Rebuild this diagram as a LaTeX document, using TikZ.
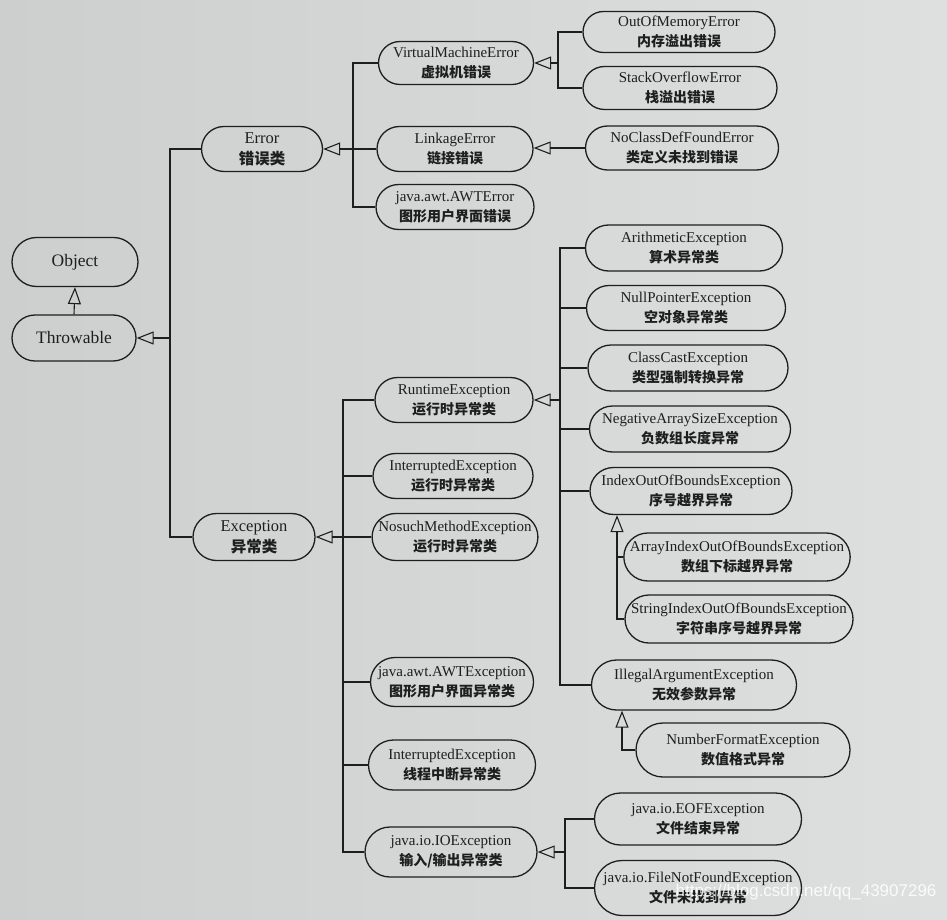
\documentclass[tikz,border=0pt]{standalone}
\usepackage{fontspec}
\setmainfont{Liberation Serif}
\newfontfamily\cjk{Noto Sans CJK SC}
\newfontfamily\wmfont{Liberation Sans}
\usetikzlibrary{arrows.meta,shapes.misc}
\definecolor{paperL}{RGB}{204,207,206}
\definecolor{paperR}{RGB}{222,224,223}
\definecolor{ink}{RGB}{30,30,30}
\tikzset{
  cls/.style={draw=ink, line width=1.3pt, rounded rectangle, inner sep=0pt, align=center,
    font=\fontsize{15}{20}\selectfont, text=ink},
  ln/.style={draw=ink, line width=1.1pt},
  inh/.style={ln, -{Triangle[open, length=17pt, width=13pt, line width=1.1pt]}},
  wm/.style={text=white, opacity=0.85, font=\wmfont\fontsize{17}{20}\selectfont}
}
\newcommand\clsnode[7]{\node[cls, minimum width=#4pt, minimum height=#5pt] (#1) at (#2,#3)
  {#6\\{\cjk\bfseries\fontsize{14}{20}\selectfont #7}};}
\begin{document}
\begin{tikzpicture}[x=1pt,y=-1pt]
\shade[left color=paperL, right color=paperR] (0,0) rectangle (947,920);
\useasboundingbox (0,0) rectangle (947,920);

% nodes
\node[cls, minimum width=126pt, minimum height=49pt, font=\fontsize{17.5}{20}\selectfont] (obj) at (75,262) {Object};
\node[cls, minimum width=124pt, minimum height=46pt, font=\fontsize{17.5}{20}\selectfont] (thr) at (74,338) {Throwable};
\node[cls, minimum width=121pt, minimum height=45pt, font=\fontsize{16.5}{21}\selectfont] (err) at (262,149)
  {Error\\{\cjk\bfseries\fontsize{15.5}{21}\selectfont 错误类}};
\node[cls, minimum width=122pt, minimum height=47pt, font=\fontsize{16.5}{21}\selectfont] (exc) at (254,537)
  {Exception\\{\cjk\bfseries\fontsize{15.5}{21}\selectfont 异常类}};
\clsnode{vme}{456}{63}{155}{43}{VirtualMachineError}{虚拟机错误}
\clsnode{lnk}{455}{149}{156}{45}{LinkageError}{链接错误}
\clsnode{awe}{455}{207}{158}{45}{java.awt.AWTError}{图形用户界面错误}
\clsnode{oom}{679}{32}{192}{41}{OutOfMemoryError}{内存溢出错误}
\clsnode{soe}{680}{88}{194}{43}{StackOverflowError}{栈溢出错误}
\clsnode{ncd}{682}{148}{193}{44}{NoClassDefFoundError}{类定义未找到错误}
\clsnode{rt}{454}{400}{158}{45}{RuntimeException}{运行时异常类}
\clsnode{ie1}{453}{476}{160}{45}{InterruptedException}{运行时异常类}
\clsnode{nsm}{455}{537}{165}{47}{NosuchMethodException}{运行时异常类}
\clsnode{awx}{452}{682}{163}{49}{java.awt.AWTException}{图形用户界面异常类}
\clsnode{ie2}{452}{765}{167}{50}{InterruptedException}{线程中断异常类}
\clsnode{io}{451}{852}{172}{50}{java.io.IOException}{输入/输出异常类}
\clsnode{ari}{684}{248}{197}{46}{ArithmeticException}{算术异常类}
\clsnode{npe}{686}{308}{199}{45}{NullPointerException}{空对象异常类}
\clsnode{cce}{688}{368}{200}{46}{ClassCastException}{类型强制转换异常}
\clsnode{nas}{690}{429}{201}{46}{NegativeArraySizeException}{负数组长度异常}
\clsnode{iob}{691}{491}{202}{47}{IndexOutOfBoundsException}{序号越界异常}
\clsnode{aio}{737}{557}{211}{48}{ArrayIndexOutOfBoundsException}{数组下标越界异常}
\clsnode{sio}{739}{619}{212}{48}{StringIndexOutOfBoundsException}{字符串序号越界异常}
\clsnode{ill}{694}{685}{205}{50}{IllegalArgumentException}{无效参数异常}
\clsnode{nfe}{743}{750}{214}{54}{NumberFormatException}{数值格式异常}
\clsnode{eof}{698}{819}{207}{52}{java.io.EOFException}{文件结束异常}
\clsnode{fnf}{698}{888}{207}{55}{java.io.FileNotFoundException}{文件未找到异常}

% trunk coordinates
\coordinate (T1) at (170,0);
\coordinate (T2) at (353,0);
\coordinate (T3) at (558,0);
\coordinate (T4) at (343,0);
\coordinate (T5) at (560,0);
\coordinate (T6) at (617,0);
\coordinate (T7) at (622,0);
\coordinate (T8) at (565,0);

% connectors
\draw[inh] (thr.north) -- (obj.south);
\draw[inh] (thr.east -| T1) -- (thr.east);
\draw[ln] (err.west) -- (err.west -| T1) |- (exc.west);

\draw[inh] (err.east -| T2) -- (err.east);
\draw[ln] (vme.west) -- (vme.west -| T2) |- (awe.west);
\draw[ln] (lnk.west) -- (lnk.west -| T2);

\draw[inh] (vme.east -| T3) -- (vme.east);
\draw[ln] (oom.west) -- (oom.west -| T3) |- (soe.west);
\draw[inh] (ncd.west) -- (lnk.east |- ncd.west);

\draw[inh] (exc.east -| T4) -- (exc.east);
\draw[ln] (rt.west) -- (rt.west -| T4) |- (io.west);
\foreach \n in {ie1,nsm,awx,ie2} \draw[ln] (\n.west) -- (\n.west -| T4);

\draw[inh] (rt.east -| T5) -- (rt.east);
\draw[ln] (ari.west) -- (ari.west -| T5) |- (ill.west);
\foreach \n in {npe,cce,nas,iob} \draw[ln] (\n.west) -- (\n.west -| T5);

\draw[inh] (sio.west) -| (iob.south -| T6);
\draw[ln] (aio.west) -- (aio.west -| T6);

\draw[inh] (nfe.west) -| (ill.south -| T7);

\draw[inh] (io.east -| T8) -- (io.east);
\draw[ln] (eof.west) -- (eof.west -| T8) |- (fnf.west);

% watermark
\node[wm, anchor=east] (wmk) at (940,892) {https://blog.csdn.net/qq\_43907296};
\end{tikzpicture}
\end{document}
